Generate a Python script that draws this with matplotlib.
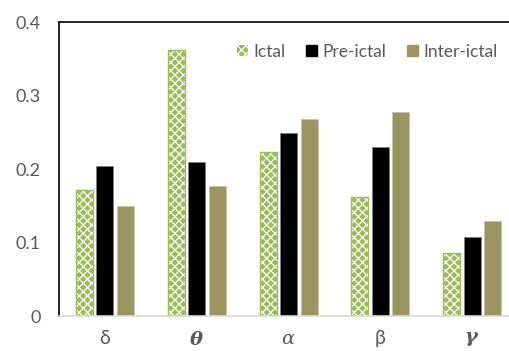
import numpy as np
import matplotlib.pyplot as plt
from matplotlib.patches import Patch

plt.rcParams['font.family'] = ['Lato', 'DejaVu Sans']
plt.rcParams['mathtext.fontset'] = 'dejavuserif'
plt.rcParams['hatch.linewidth'] = 0.9

bands = [r'δ', r'$\boldsymbol{\theta}$', r'$\alpha$', r'β', r'$\boldsymbol{\gamma}$']
ictal = [0.172, 0.362, 0.223, 0.162, 0.086]
pre_ictal = [0.204, 0.210, 0.249, 0.230, 0.108]
inter_ictal = [0.149, 0.177, 0.268, 0.278, 0.129]

green = '#9BBB59'
olive = '#9C9461'
grey_txt = '#595959'

fig = plt.figure(figsize=(5.09, 3.51), dpi=100)
ax = fig.add_axes([0.116, 0.0997, 0.902, 0.8376])

x = np.arange(len(bands))
w = 0.185
off = 0.223

# hatched ictal bars: white hatch first, then green outline on top
ax.bar(x - off, ictal, w, color=green, edgecolor='white', linewidth=0,
       hatch='xxxx')
ax.bar(x - off, ictal, w, fill=False, edgecolor=green, linewidth=1.0)
ax.bar(x, pre_ictal, w, color='black', edgecolor='#7f7f7f', linewidth=0.6)
ax.bar(x + off, inter_ictal, w, color=olive, edgecolor='#c9c4a6', linewidth=0.6)

# legend handles
h_ictal = Patch(facecolor=green, edgecolor='white', hatch='xxxx', linewidth=0)
h_pre = Patch(facecolor='black', edgecolor='black')
h_inter = Patch(facecolor=olive, edgecolor=olive)
ax.legend([h_ictal, h_pre, h_inter], ['Ictal', 'Pre-ictal', 'Inter-ictal'],
          ncol=3, frameon=False, loc='upper right', bbox_to_anchor=(0.99, 0.98),
          handlelength=0.65, handleheight=0.65, handletextpad=0.3,
          columnspacing=1.2, fontsize=12.5, labelcolor=grey_txt)

ax.set_xlim(-0.5, len(bands) - 0.5)
ax.set_ylim(0, 0.4)
ax.set_yticks([0, 0.1, 0.2, 0.3, 0.4])
ax.set_yticklabels(['0', '0.1', '0.2', '0.3', '0.4'])
ax.set_xticks(x)
ax.set_xticklabels(bands)
ax.tick_params(axis='y', length=0, colors=grey_txt, labelsize=13, pad=13)
ax.tick_params(axis='x', length=0, colors=grey_txt, labelsize=14, pad=10)

ax.spines['left'].set_color('black')
ax.spines['left'].set_linewidth(1.2)
ax.spines['top'].set_color('black')
ax.spines['top'].set_linewidth(1.2)
ax.spines['right'].set_visible(False)
ax.spines['bottom'].set_color('#d9d9d9')
ax.spines['bottom'].set_linewidth(1.2)

fig.savefig('out.png', dpi=100)
